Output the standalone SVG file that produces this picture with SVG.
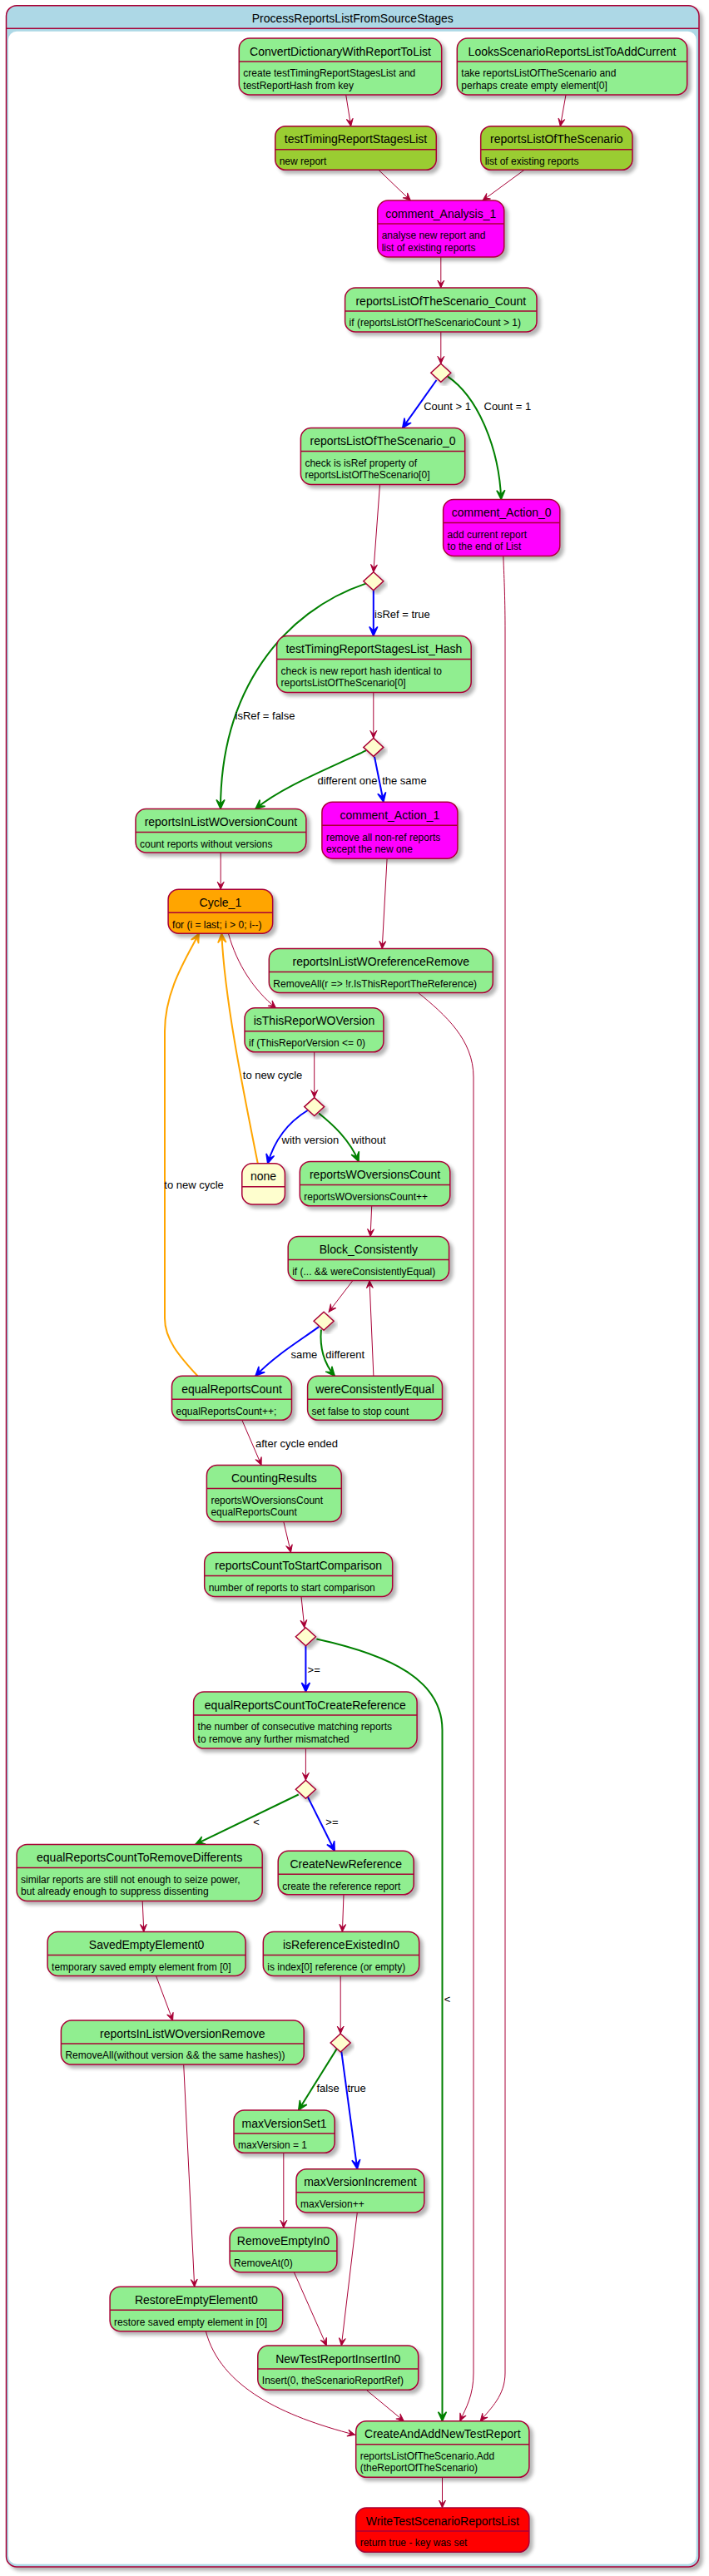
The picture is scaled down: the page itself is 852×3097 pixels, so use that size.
<svg xmlns="http://www.w3.org/2000/svg" width="852" height="3097" viewBox="0 0 852 3097">
<style>
.st{stroke:#A80036;stroke-width:1.5;filter:url(#sh)}
.dv{stroke:#A80036;stroke-width:1.5}
.g{fill:#90EE90}.y{fill:#9ACD32}.m{fill:#FF00FF}.o{fill:#FFA500}.r{fill:#FF0000}.n{fill:#FEFECE}
.t{font-family:"Liberation Sans",Arial,sans-serif;font-size:14px;text-anchor:middle;fill:#000}
.b{font-family:"Liberation Sans",Arial,sans-serif;font-size:12px;fill:#000}
.l{font-family:"Liberation Sans",Arial,sans-serif;font-size:13px;fill:#000}
.e{fill:none;stroke:#A80036;stroke-width:1;marker-end:url(#ac)}
.eb{fill:none;stroke:#0000FF;stroke-width:2;marker-end:url(#ab)}
.eg{fill:none;stroke:#008000;stroke-width:2;marker-end:url(#ag)}
.eo{fill:none;stroke:#FFA500;stroke-width:2;marker-end:url(#ao)}
.dm{fill:#FEFECE;stroke:#A80036;stroke-width:1.5;filter:url(#sh)}
</style>
<defs>
<filter id="sh" x="-20%" y="-20%" width="140%" height="140%">
<feGaussianBlur in="SourceAlpha" stdDeviation="2"/>
<feOffset dx="4" dy="4"/>
<feComponentTransfer><feFuncA type="linear" slope="0.3"/></feComponentTransfer>
<feMerge><feMergeNode/><feMergeNode in="SourceGraphic"/></feMerge>
</filter>
<marker id="ac" markerUnits="userSpaceOnUse" orient="auto" refX="0" refY="0" markerWidth="1" markerHeight="1" overflow="visible"><path d="M0,0 L-9,-4 L-5,0 L-9,4 Z" fill="#A80036" stroke="#A80036" stroke-width="1"/></marker>
<marker id="ab" markerUnits="userSpaceOnUse" orient="auto" refX="0" refY="0" markerWidth="1" markerHeight="1" overflow="visible"><path d="M0,0 L-11,-5 L-6,0 L-11,5 Z" fill="#0000FF" stroke="#0000FF" stroke-width="1.5"/></marker>
<marker id="ag" markerUnits="userSpaceOnUse" orient="auto" refX="0" refY="0" markerWidth="1" markerHeight="1" overflow="visible"><path d="M0,0 L-11,-5 L-6,0 L-11,5 Z" fill="#008000" stroke="#008000" stroke-width="1.5"/></marker>
<marker id="ao" markerUnits="userSpaceOnUse" orient="auto" refX="0" refY="0" markerWidth="1" markerHeight="1" overflow="visible"><path d="M0,0 L-11,-5 L-6,0 L-11,5 Z" fill="#FFA500" stroke="#FFA500" stroke-width="1.5"/></marker>
</defs>

<g id="frame">
<rect x="7.5" y="6.7" width="832.5" height="3079.3" rx="12.5" fill="#ADD8E6" stroke="#A80036" stroke-width="1.5" filter="url(#sh)"/>
<line x1="7.5" y1="34.3" x2="840" y2="34.3" stroke="#A80036" stroke-width="1.5"/>
<rect x="10" y="37.7" width="826.7" height="3045" rx="10" fill="#FFFFFF"/>
<text class="t" x="423.75" y="27">ProcessReportsListFromSourceStages</text>
</g>

<g id="connectors">
<path class="e" d="M415.7,114 L421.7,151.7"/>
<path class="e" d="M680,114 L673.3,151.7"/>
<path class="e" d="M455,204.3 L493.3,241"/>
<path class="e" d="M630,204.3 L580,241"/>
<path class="e" d="M529.8,309 L529.8,346"/>
<path class="e" d="M529.8,399 L529.8,437.3"/>
<path class="eb" d="M524.5,457 L483.7,514.5"/>
<text class="l" x="509.2" y="492.8">Count &gt; 1</text>
<path class="eg" d="M538,452.7 C575,478 600,540 602.2,600.5"/>
<text class="l" x="581.5" y="492.8">Count = 1</text>
<path class="e" d="M456.5,582.5 L448.8,687.7"/>
<path class="eb" d="M448.8,710 L448.8,764.5"/>
<text class="l" x="450" y="743">isRef = true</text>
<path class="eg" d="M440.2,701.4 C340,735 265,830 265,972.5"/>
<text class="l" x="282.6" y="865">isRef = false</text>
<path class="e" d="M448.8,832.5 L448.8,887.4"/>
<path class="eg" d="M440.2,902.2 C400,922 340,945 307,972.5"/>
<text class="l" x="381.5" y="943">different one</text>
<path class="eb" d="M450,909.8 L460.9,964.2"/>
<text class="l" x="459.2" y="943">the same</text>
<path class="e" d="M604.8,668.5 C606,700 607,720 607,760 L607,2853 C607,2880 590,2895 577.2,2910.7"/>
<path class="e" d="M265.2,1025 L265.2,1069.2"/>
<path class="e" d="M465.1,1032.2 L459.2,1140.5"/>
<path class="e" d="M502.6,1193.5 C535,1220 569,1250 569,1295 L569,2853 C569,2880 560,2895 552.7,2910.7"/>
<path class="e" d="M274.4,1122.2 C285,1160 305,1190 331.5,1211.8"/>
<path class="e" d="M377.7,1264.8 L377.7,1319.6"/>
<path class="eb" d="M369.6,1335 C345,1350 330,1370 321.7,1398.8"/>
<text class="l" x="338.6" y="1375">with version</text>
<path class="eg" d="M383.2,1338.5 C400,1352 420,1370 431,1396.4"/>
<text class="l" x="422.3" y="1375">without</text>
<path class="eo" d="M309.8,1398.8 C290,1300 270,1200 266.3,1122.2"/>
<text class="l" x="291.8" y="1297">to new cycle</text>
<path class="eo" d="M237.5,1654.3 C215,1630 198,1610 198,1585 L198,1240 C198,1190 225,1150 239.1,1122.2"/>
<text class="l" x="197.3" y="1429">to new cycle</text>
<path class="e" d="M446.7,1449.8 L445.1,1486.6"/>
<path class="e" d="M423.9,1539.6 L395.1,1577.2"/>
<path class="e" d="M448.9,1654.3 L444,1539.6"/>
<path class="eb" d="M383.2,1595.1 C360,1612 330,1630 307,1654.3"/>
<text class="l" x="349.5" y="1633">same</text>
<path class="eg" d="M385.9,1598.5 C384,1620 390,1640 402.2,1654.3"/>
<text class="l" x="391.3" y="1633">different</text>
<path class="e" d="M290.8,1707.3 L314.1,1761.4"/>
<text class="l" x="307" y="1740">after cycle ended</text>
<path class="e" d="M340.8,1829.4 L349.5,1866.4"/>
<path class="e" d="M362,1919.4 L365.8,1956.7"/>
<path class="eb" d="M367.4,1979 L367.4,2034.1"/>
<text class="l" x="369.6" y="2012">&gt;=</text>
<path class="eg" d="M380.4,1970.4 C470,1990 531.5,2020 531.5,2080 L531.5,2910.7"/>
<text class="l" x="533.7" y="2407.5">&lt;</text>
<path class="e" d="M367.4,2102.1 L367.4,2140.3"/>
<path class="eg" d="M358.7,2157.5 L234.8,2217.4"/>
<text class="l" x="304.3" y="2195">&lt;</text>
<path class="eb" d="M369.6,2159.9 L402.2,2225.3"/>
<text class="l" x="391.3" y="2195">&gt;=</text>
<path class="e" d="M171.2,2285.4 L172.8,2322.4"/>
<path class="e" d="M413,2277.8 L411.4,2322.4"/>
<path class="e" d="M187.5,2375.4 L207.6,2429.1"/>
<path class="e" d="M409.2,2375.4 L409.2,2445"/>
<path class="eg" d="M404.9,2462.9 L358.7,2537"/>
<text class="l" x="380.4" y="2514.5">false</text>
<path class="eb" d="M410.3,2466.3 L429.3,2607.7"/>
<text class="l" x="417.4" y="2514.5">true</text>
<path class="e" d="M220.7,2482.1 L233.7,2749.3"/>
<path class="e" d="M340.8,2588.3 L340.8,2678.3"/>
<path class="e" d="M353.3,2731.7 L392.4,2820"/>
<path class="e" d="M429.3,2660 L410.3,2820"/>
<path class="e" d="M247.3,2802.7 C265,2870 340,2905 426.6,2927.3"/>
<path class="e" d="M440.2,2873.3 L485.3,2910.7"/>
<path class="e" d="M531.5,2978.3 L531.5,3015"/>
</g>

<g id="ConvertDictionaryWithReportToList"><rect class="st g" x="287.3" y="46" width="243.4" height="68" rx="12.5"/><line class="dv" x1="287.3" y1="74" x2="530.7" y2="74"/><text class="t" x="409" y="66.5">ConvertDictionaryWithReportToList</text><text class="b" x="292.3" y="92.3">create testTimingReportStagesList and</text><text class="b" x="292.3" y="106.6">testReportHash from key</text></g>
<g id="LooksScenarioReportsListToAddCurrent"><rect class="st g" x="549.3" y="46" width="276.4" height="68" rx="12.5"/><line class="dv" x1="549.3" y1="74" x2="825.7" y2="74"/><text class="t" x="687.5" y="66.5">LooksScenarioReportsListToAddCurrent</text><text class="b" x="554.3" y="92.3">take reportsListOfTheScenario and</text><text class="b" x="554.3" y="106.6">perhaps create empty element[0]</text></g>
<g id="testTimingReportStagesList"><rect class="st y" x="330.7" y="151.7" width="193.6" height="52.6" rx="12.5"/><line class="dv" x1="330.7" y1="179.7" x2="524.3" y2="179.7"/><text class="t" x="427.5" y="172.2">testTimingReportStagesList</text><text class="b" x="335.7" y="198">new report</text></g>
<g id="reportsListOfTheScenario"><rect class="st y" x="577.7" y="151.7" width="182.3" height="52.6" rx="12.5"/><line class="dv" x1="577.7" y1="179.7" x2="760" y2="179.7"/><text class="t" x="668.85" y="172.2">reportsListOfTheScenario</text><text class="b" x="582.7" y="198">list of existing reports</text></g>
<g id="comment_Analysis_1"><rect class="st m" x="453.7" y="241" width="152.1" height="68" rx="12.5"/><line class="dv" x1="453.7" y1="269" x2="605.8" y2="269"/><text class="t" x="529.75" y="261.5">comment_Analysis_1</text><text class="b" x="458.7" y="287.3">analyse new report and</text><text class="b" x="458.7" y="301.6">list of existing reports</text></g>
<g id="reportsListOfTheScenario_Count"><rect class="st g" x="414.6" y="346" width="230.4" height="53" rx="12.5"/><line class="dv" x1="414.6" y1="374" x2="645" y2="374"/><text class="t" x="529.8" y="366.5">reportsListOfTheScenario_Count</text><text class="b" x="419.6" y="392.3">if (reportsListOfTheScenarioCount &gt; 1)</text></g>
<g id="choice1"><polygon class="dm" points="529.8,437.3 541.8,448.3 529.8,459.3 517.8,448.3"/></g>
<g id="reportsListOfTheScenario_0"><rect class="st g" x="361.4" y="514.5" width="197.3" height="68" rx="12.5"/><line class="dv" x1="361.4" y1="542.5" x2="558.7" y2="542.5"/><text class="t" x="460.05" y="535">reportsListOfTheScenario_0</text><text class="b" x="366.4" y="560.8">check is isRef property of</text><text class="b" x="366.4" y="575.1">reportsListOfTheScenario[0]</text></g>
<g id="comment_Action_0"><rect class="st m" x="532.6" y="600.5" width="140.2" height="68" rx="12.5"/><line class="dv" x1="532.6" y1="628.5" x2="672.8" y2="628.5"/><text class="t" x="602.7" y="621">comment_Action_0</text><text class="b" x="537.6" y="646.8">add current report</text><text class="b" x="537.6" y="661.1">to the end of List</text></g>
<g id="choice2"><polygon class="dm" points="448.8,687.7 460.8,698.7 448.8,709.7 436.8,698.7"/></g>
<g id="testTimingReportStagesList_Hash"><rect class="st g" x="332.6" y="764.5" width="233.6" height="68" rx="12.5"/><line class="dv" x1="332.6" y1="792.5" x2="566.2" y2="792.5"/><text class="t" x="449.4" y="785">testTimingReportStagesList_Hash</text><text class="b" x="337.6" y="810.8">check is new report hash identical to</text><text class="b" x="337.6" y="825.1">reportsListOfTheScenario[0]</text></g>
<g id="choice3"><polygon class="dm" points="448.8,887.4 460.8,898.4 448.8,909.4 436.8,898.4"/></g>
<g id="reportsInListWOversionCount"><rect class="st g" x="163" y="972.5" width="204.9" height="52.5" rx="12.5"/><line class="dv" x1="163" y1="1000.5" x2="367.9" y2="1000.5"/><text class="t" x="265.45" y="993">reportsInListWOversionCount</text><text class="b" x="168" y="1018.8">count reports without versions</text></g>
<g id="comment_Action_1"><rect class="st m" x="386.9" y="964.2" width="163" height="68" rx="12.5"/><line class="dv" x1="386.9" y1="992.2" x2="549.9" y2="992.2"/><text class="t" x="468.4" y="984.7">comment_Action_1</text><text class="b" x="391.9" y="1010.5">remove all non-ref reports</text><text class="b" x="391.9" y="1024.8">except the new one</text></g>
<g id="Cycle_1"><rect class="st o" x="202.1" y="1069.2" width="125.6" height="53" rx="12.5"/><line class="dv" x1="202.1" y1="1097.2" x2="327.7" y2="1097.2"/><text class="t" x="264.9" y="1089.7">Cycle_1</text><text class="b" x="207.1" y="1115.5">for (i = last; i &gt; 0; i--)</text></g>
<g id="reportsInListWOreferenceRemove"><rect class="st g" x="323.3" y="1140.5" width="269" height="53" rx="12.5"/><line class="dv" x1="323.3" y1="1168.5" x2="592.3" y2="1168.5"/><text class="t" x="457.8" y="1161">reportsInListWOreferenceRemove</text><text class="b" x="328.3" y="1186.8">RemoveAll(r =&gt; !r.IsThisReportTheReference)</text></g>
<g id="isThisReporWOVersion"><rect class="st g" x="294" y="1211.8" width="166.9" height="53" rx="12.5"/><line class="dv" x1="294" y1="1239.8" x2="460.9" y2="1239.8"/><text class="t" x="377.45" y="1232.3">isThisReporWOVersion</text><text class="b" x="299" y="1258.1">if (ThisReporVersion &lt;= 0)</text></g>
<g id="choice4"><polygon class="dm" points="377.7,1319.6 389.7,1330.6 377.7,1341.6 365.7,1330.6"/></g>
<g id="none"><rect class="st n" x="290.8" y="1398.8" width="51.6" height="49.2" rx="12.5"/><line class="dv" x1="290.8" y1="1426.8" x2="342.4" y2="1426.8"/><text class="t" x="316.6" y="1419.3">none</text></g>
<g id="reportsWOversionsCount"><rect class="st g" x="360.3" y="1396.4" width="180.5" height="53.4" rx="12.5"/><line class="dv" x1="360.3" y1="1424.4" x2="540.8" y2="1424.4"/><text class="t" x="450.55" y="1416.9">reportsWOversionsCount</text><text class="b" x="365.3" y="1442.7">reportsWOversionsCount++</text></g>
<g id="Block_Consistently"><rect class="st g" x="346.2" y="1486.6" width="193.4" height="53" rx="12.5"/><line class="dv" x1="346.2" y1="1514.6" x2="539.6" y2="1514.6"/><text class="t" x="442.9" y="1507.1">Block_Consistently</text><text class="b" x="351.2" y="1532.9">if (... &amp;&amp; wereConsistentlyEqual)</text></g>
<g id="choice5"><polygon class="dm" points="389.1,1577.2 401.1,1588.2 389.1,1599.2 377.1,1588.2"/></g>
<g id="equalReportsCount"><rect class="st g" x="206.5" y="1654.3" width="144" height="53" rx="12.5"/><line class="dv" x1="206.5" y1="1682.3" x2="350.5" y2="1682.3"/><text class="t" x="278.5" y="1674.8">equalReportsCount</text><text class="b" x="211.5" y="1700.6">equalReportsCount++;</text></g>
<g id="wereConsistentlyEqual"><rect class="st g" x="369.6" y="1654.3" width="161.9" height="53" rx="12.5"/><line class="dv" x1="369.6" y1="1682.3" x2="531.5" y2="1682.3"/><text class="t" x="450.55" y="1674.8">wereConsistentlyEqual</text><text class="b" x="374.6" y="1700.6">set false to stop count</text></g>
<g id="CountingResults"><rect class="st g" x="248.4" y="1761.4" width="161.9" height="68" rx="12.5"/><line class="dv" x1="248.4" y1="1789.4" x2="410.3" y2="1789.4"/><text class="t" x="329.35" y="1781.9">CountingResults</text><text class="b" x="253.4" y="1807.7">reportsWOversionsCount</text><text class="b" x="253.4" y="1822">equalReportsCount</text></g>
<g id="reportsCountToStartComparison"><rect class="st g" x="245.7" y="1866.4" width="226" height="53" rx="12.5"/><line class="dv" x1="245.7" y1="1894.4" x2="471.7" y2="1894.4"/><text class="t" x="358.7" y="1886.9">reportsCountToStartComparison</text><text class="b" x="250.7" y="1912.7">number of reports to start comparison</text></g>
<g id="choice6"><polygon class="dm" points="367.4,1956.7 379.4,1967.7 367.4,1978.7 355.4,1967.7"/></g>
<g id="equalReportsCountToCreateReference"><rect class="st g" x="232.6" y="2034.1" width="268.5" height="68" rx="12.5"/><line class="dv" x1="232.6" y1="2062.1" x2="501.1" y2="2062.1"/><text class="t" x="366.85" y="2054.6">equalReportsCountToCreateReference</text><text class="b" x="237.6" y="2080.4">the number of consecutive matching reports</text><text class="b" x="237.6" y="2094.7">to remove any further mismatched</text></g>
<g id="choice7"><polygon class="dm" points="367.4,2140.3 379.4,2151.3 367.4,2162.3 355.4,2151.3"/></g>
<g id="equalReportsCountToRemoveDifferents"><rect class="st g" x="20.1" y="2217.4" width="295.1" height="68" rx="12.5"/><line class="dv" x1="20.1" y1="2245.4" x2="315.2" y2="2245.4"/><text class="t" x="167.65" y="2237.9">equalReportsCountToRemoveDifferents</text><text class="b" x="25.1" y="2263.7">similar reports are still not enough to seize power,</text><text class="b" x="25.1" y="2278">but already enough to suppress dissenting</text></g>
<g id="CreateNewReference"><rect class="st g" x="334.2" y="2225.3" width="163" height="52.5" rx="12.5"/><line class="dv" x1="334.2" y1="2253.3" x2="497.2" y2="2253.3"/><text class="t" x="415.7" y="2245.8">CreateNewReference</text><text class="b" x="339.2" y="2271.6">create the reference report</text></g>
<g id="SavedEmptyElement0"><rect class="st g" x="57.1" y="2322.4" width="238" height="53" rx="12.5"/><line class="dv" x1="57.1" y1="2350.4" x2="295.1" y2="2350.4"/><text class="t" x="176.1" y="2342.9">SavedEmptyElement0</text><text class="b" x="62.1" y="2368.7">temporary saved empty element from [0]</text></g>
<g id="isReferenceExistedIn0"><rect class="st g" x="316.3" y="2322.4" width="187.4" height="53" rx="12.5"/><line class="dv" x1="316.3" y1="2350.4" x2="503.7" y2="2350.4"/><text class="t" x="410" y="2342.9">isReferenceExistedIn0</text><text class="b" x="321.3" y="2368.7">is index[0] reference (or empty)</text></g>
<g id="reportsInListWOversionRemove"><rect class="st g" x="73.4" y="2429.1" width="291.8" height="53" rx="12.5"/><line class="dv" x1="73.4" y1="2457.1" x2="365.2" y2="2457.1"/><text class="t" x="219.3" y="2449.6">reportsInListWOversionRemove</text><text class="b" x="78.4" y="2475.4">RemoveAll(without version &amp;&amp; the same hashes))</text></g>
<g id="choice8"><polygon class="dm" points="409.2,2445 421.2,2456 409.2,2467 397.2,2456"/></g>
<g id="maxVersionSet1"><rect class="st g" x="281" y="2537" width="121.2" height="51.3" rx="12.5"/><line class="dv" x1="281" y1="2565" x2="402.2" y2="2565"/><text class="t" x="341.6" y="2557.5">maxVersionSet1</text><text class="b" x="286" y="2582.5">maxVersion = 1</text></g>
<g id="maxVersionIncrement"><rect class="st g" x="356" y="2607.7" width="153.8" height="52.3" rx="12.5"/><line class="dv" x1="356" y1="2635.7" x2="509.8" y2="2635.7"/><text class="t" x="432.9" y="2628.2">maxVersionIncrement</text><text class="b" x="361" y="2654">maxVersion++</text></g>
<g id="RemoveEmptyIn0"><rect class="st g" x="276.1" y="2678.3" width="128.8" height="53.4" rx="12.5"/><line class="dv" x1="276.1" y1="2706.3" x2="404.9" y2="2706.3"/><text class="t" x="340.5" y="2698.8">RemoveEmptyIn0</text><text class="b" x="281.1" y="2724.6">RemoveAt(0)</text></g>
<g id="RestoreEmptyElement0"><rect class="st g" x="132.1" y="2749.3" width="207.6" height="53.4" rx="12.5"/><line class="dv" x1="132.1" y1="2777.3" x2="339.7" y2="2777.3"/><text class="t" x="235.9" y="2769.8">RestoreEmptyElement0</text><text class="b" x="137.1" y="2795.6">restore saved empty element in [0]</text></g>
<g id="NewTestReportInsertIn0"><rect class="st g" x="309.8" y="2820" width="192.9" height="53.3" rx="12.5"/><line class="dv" x1="309.8" y1="2848" x2="502.7" y2="2848"/><text class="t" x="406.25" y="2840.5">NewTestReportInsertIn0</text><text class="b" x="314.8" y="2866.3">Insert(0, theScenarioReportRef)</text></g>
<g id="CreateAndAddNewTestReport"><rect class="st g" x="427.7" y="2910.7" width="208.2" height="67.6" rx="12.5"/><line class="dv" x1="427.7" y1="2938.7" x2="635.9" y2="2938.7"/><text class="t" x="531.8" y="2931.2">CreateAndAddNewTestReport</text><text class="b" x="432.7" y="2957">reportsListOfTheScenario.Add</text><text class="b" x="432.7" y="2971.3">(theReportOfTheScenario)</text></g>
<g id="WriteTestScenarioReportsList"><rect class="st r" x="427.7" y="3015" width="208.2" height="53.3" rx="12.5"/><line class="dv" x1="427.7" y1="3043" x2="635.9" y2="3043"/><text class="t" x="531.8" y="3035.5">WriteTestScenarioReportsList</text><text class="b" x="432.7" y="3061.3">return true - key was set</text></g>
</svg>
